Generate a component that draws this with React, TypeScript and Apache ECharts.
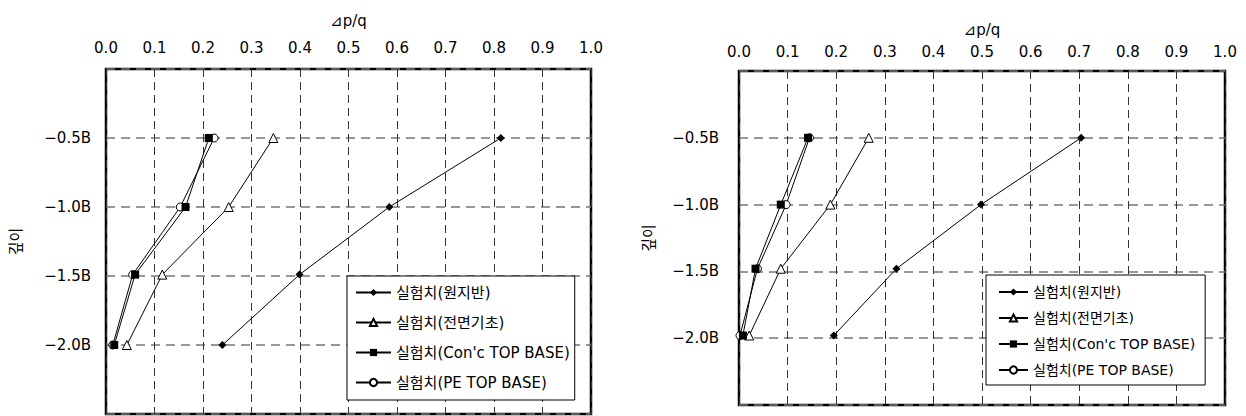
import React, { useEffect, useRef } from "react";
import * as echarts from "echarts";

const FONT = "'DejaVu Sans', 'Noto Sans CJK KR', sans-serif";

const seriesNames = [
  "실험치(원지반)",
  "실험치(전면기초)",
  "실험치(Con'c TOP BASE)",
  "실험치(PE TOP BASE)",
];

const xTicks = [0, 0.1, 0.2, 0.3, 0.4, 0.5, 0.6, 0.7, 0.8, 0.9, 1.0];
const yTicks = [-0.5, -1.0, -1.5, -2.0];

// Left chart
const depthsLeft = [-0.5, -1.0, -1.49, -2.0];
const leftWonjiban = [0.814, 0.584, 0.399, 0.24];
const leftJeonmyeon = [0.345, 0.253, 0.116, 0.043];
const leftConc = [0.212, 0.164, 0.06, 0.017];
const leftPE = [0.223, 0.153, 0.055, 0.014];

// Right chart
const depthsRight = [-0.5, -1.0, -1.48, -1.98];
const rightWonjiban = [0.704, 0.498, 0.324, 0.195];
const rightJeonmyeon = [0.267, 0.188, 0.086, 0.021];
const rightConc = [0.142, 0.086, 0.034, 0.008];
const rightPE = [0.145, 0.097, 0.038, 0.002];

const styles: Record<string, any> = {
  "실험치(원지반)": { symbol: "diamond", symbolSize: 8, itemStyle: { color: "#000" } },
  "실험치(전면기초)": {
    symbol: "triangle",
    symbolSize: 9,
    itemStyle: { color: "#fff", borderColor: "#000", borderWidth: 1 },
  },
  "실험치(Con'c TOP BASE)": { symbol: "rect", symbolSize: 8, itemStyle: { color: "#000" } },
  "실험치(PE TOP BASE)": {
    symbol: "circle",
    symbolSize: 8,
    itemStyle: { color: "#fff", borderColor: "#000", borderWidth: 1 },
  },
};

function makeSeries(name: string, xs: number[], ys: number[], idx: number) {
  return {
    type: "line",
    name,
    xAxisIndex: idx,
    yAxisIndex: idx,
    data: xs.map((x, i) => [x, ys[i]]),
    lineStyle: { color: "#000", width: 1 },
    ...styles[name],
    z: 3,
  };
}

export default function App() {
  const ref = useRef<HTMLDivElement>(null);
  useEffect(() => {
    document.body.style.margin = "0";
    const chart = echarts.init(ref.current!, null, { renderer: "svg" });
    const xAxis = [0, 1].map((i) => ({
      gridIndex: i,
      type: "value",
      position: "top",
      min: 0,
      max: 1,
      interval: 0.1,
      name: "⊿p/q",
      nameLocation: "middle",
      nameGap: i === 0 ? 41 : 34,
      nameTextStyle: { fontSize: 15, color: "#000", fontFamily: FONT },
      axisLine: { show: false },
      axisTick: { show: false },
      axisLabel: {
        color: "#000",
        fontSize: 15,
        fontFamily: FONT,
        margin: i === 0 ? 14 : 12,
        formatter: (v: number) => (xTicks.some((t) => Math.abs(t - v) < 1e-9) ? v.toFixed(1) : ""),
      },
      splitLine: { show: true, lineStyle: { color: "#333", width: 1, type: [8, 5] } },
    }));
    const yAxis = [0, 1].map((i) => ({
      gridIndex: i,
      type: "value",
      min: -2.5,
      max: 0,
      interval: 0.5,
      name: "깊이",
      nameLocation: "middle",
      nameGap: 83,
      nameTextStyle: { fontSize: 15, color: "#000", fontFamily: FONT },
      axisLine: { show: false },
      axisTick: { show: false },
      axisLabel: {
        color: "#000",
        fontSize: 15,
        fontFamily: FONT,
        margin: i === 0 ? 15 : 20,
        formatter: (v: number) =>
          yTicks.some((t) => Math.abs(t - v) < 1e-9) ? "−" + Math.abs(v).toFixed(1) + "B" : "",
      },
      splitLine: { show: true, lineStyle: { color: "#777", width: 1.5, type: [9, 6] } },
    }));
    const option: any = {
      animation: false,
      textStyle: { fontFamily: FONT },
      grid: [
        { left: 106, top: 69, width: 485, height: 345, show: true, borderColor: "#000", borderWidth: 2.5, backgroundColor: "transparent" },
        { left: 739, top: 71, width: 486, height: 334, show: true, borderColor: "#000", borderWidth: 2.5, backgroundColor: "transparent" },
      ],
      xAxis,
      yAxis,
      legend: [
        {
          data: seriesNames,
          orient: "vertical",
          left: 347,
          top: 276,
          padding: [9, 5, 10, 8],
          itemGap: 15,
          itemWidth: 35,
          itemHeight: 9,
          backgroundColor: "#fff",
          borderColor: "#000",
          borderWidth: 1,
          textStyle: { fontSize: 15, color: "#000", fontFamily: FONT },
        },
        {
          data: seriesNames,
          orient: "vertical",
          left: 986,
          top: 275,
          padding: [10, 10, 8, 12],
          itemGap: 12,
          itemWidth: 29,
          itemHeight: 9,
          backgroundColor: "#fff",
          borderColor: "#000",
          borderWidth: 1,
          textStyle: { fontSize: 14, color: "#000", fontFamily: FONT },
        },
      ],
      series: [
        makeSeries(seriesNames[0], leftWonjiban, depthsLeft, 0),
        makeSeries(seriesNames[1], leftJeonmyeon, depthsLeft, 0),
        makeSeries(seriesNames[3], leftPE, depthsLeft, 0),
        makeSeries(seriesNames[2], leftConc, depthsLeft, 0),
        makeSeries(seriesNames[0], rightWonjiban, depthsRight, 1),
        makeSeries(seriesNames[1], rightJeonmyeon, depthsRight, 1),
        makeSeries(seriesNames[3], rightPE, depthsRight, 1),
        makeSeries(seriesNames[2], rightConc, depthsRight, 1),
      ],
    };
    chart.setOption(option);
    return () => chart.dispose();
  }, []);
  return <div ref={ref} style={{ width: 1246, height: 416 }} />;
}
